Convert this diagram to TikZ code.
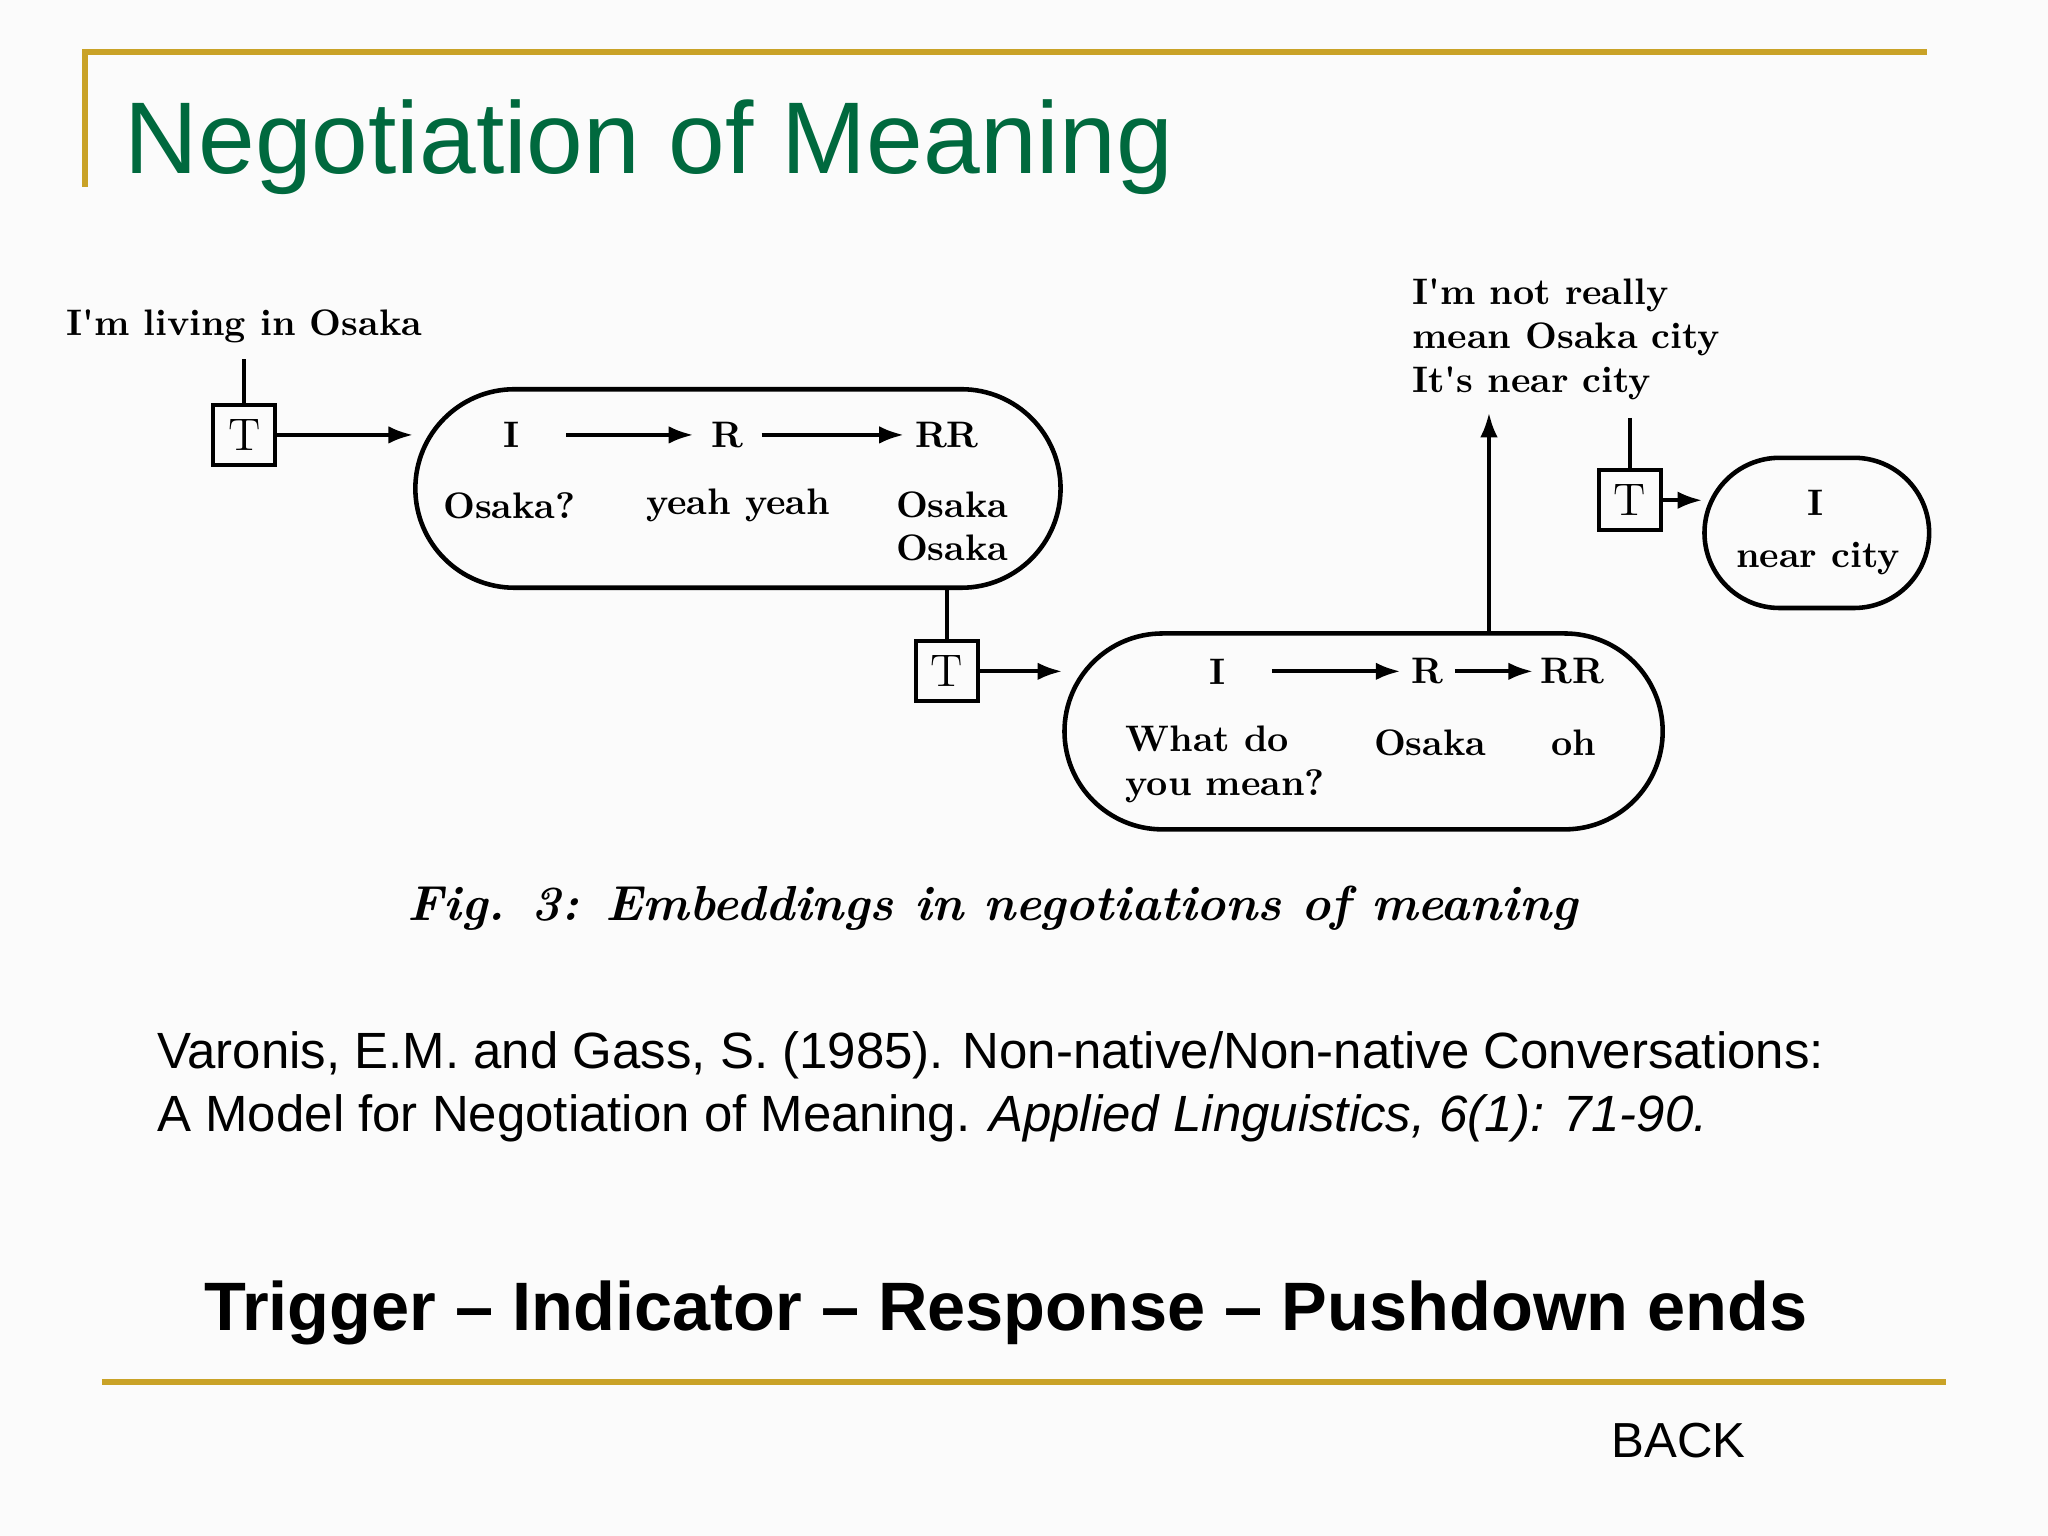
\documentclass[tikz,border=0pt]{standalone}
\usepackage{fontspec}
\setmainfont{Liberation Sans}
\newfontfamily\scanfont{Latin Modern Roman}
\usetikzlibrary{shapes.misc,arrows.meta}
\definecolor{gold}{RGB}{201,162,39}
\definecolor{titlegreen}{RGB}{0,105,62}
\begin{document}
\begin{tikzpicture}[x=0.01306cm,y=-0.01306cm,
  dtext/.style={font=\scanfont\fontsize{10.5}{12.5}\selectfont\bfseries, inner sep=1pt},
  tbox/.style={draw, line width=1.2pt, minimum width=0.62cm, minimum height=0.6cm, inner sep=0pt, font=\scanfont\fontsize{13}{14}\selectfont},
  caps/.style={draw, line width=1.3pt, rounded rectangle, inner sep=0pt},
  con/.style={line width=1.1pt},
  arr/.style={line width=1.1pt, -{Latex[length=7pt,width=5pt]}},
  goldline/.style={gold, line width=1.6pt}]
\useasboundingbox (0,0) rectangle (1568,1176);
\fill[white!97!gray] (0,0) rectangle (1568,1176);
% frame lines
\coordinate (g1) at (65,143); \coordinate (g2) at (65,40); \coordinate (g3) at (1475,40);
\draw[goldline] (g1) -- (g2) -- (g3);
\coordinate (g4) at (78,1058); \coordinate (g5) at (1490,1058);
\draw[goldline] (g4) -- (g5);
\node[anchor=base west, text=titlegreen, font=\fontsize{29}{32}\selectfont, inner sep=0pt] (title) at (95,133) {Negotiation of Meaning};
% capsule 1
\node[caps, minimum width=494*0.01306cm, minimum height=152*0.01306cm] (c1) at (565,374) {};
\node[dtext] (i1) at (392,333) {I};
\node[dtext] (r1) at (557,333) {R};
\node[dtext] (rr1) at (725,333) {RR};
\draw[arr] ([xshift=12pt]i1.east) -- ([xshift=-4pt]r1.west); \draw[arr] ([xshift=4pt]r1.east) -- ([xshift=-2pt]rr1.west);
\node[dtext] (o1) at (390,387) {Osaka?};
\node[dtext] (y1) at (565,387) {yeah yeah};
\node[dtext, align=center] (oo1) at (729,403) {Osaka\\Osaka};
% T1
\node[dtext, anchor=center] (t0) at (187,250) {I'm living in Osaka};
\node[tbox] (T1) at (187,333) {T};
\coordinate (t1top) at (187,275);
\draw[con] (t1top) -- (T1.north);
\draw[arr] (T1.east) -- (T1.east -| c1.west);
% T2
\node[tbox] (T2) at (725,514) {T};
\draw[con] (c1.south -| T2) -- (T2.north);
% capsule 2
\node[caps, minimum width=458*0.01306cm, minimum height=150*0.01306cm] (c2) at (1044,560) {};
\draw[arr] (T2.east) -- (T2.east -| c2.west);
\node[dtext] (i2) at (932,514) {I};
\node[dtext] (r2) at (1093,514) {R};
\node[dtext] (rr2) at (1204,514) {RR};
\draw[arr] ([xshift=12pt]i2.east) -- ([xshift=-2pt]r2.west); \draw[arr] ([xshift=2pt]r2.east) -- ([xshift=-1pt]rr2.west);
\node[dtext, align=left] (w2) at (938,585) {What do\\you mean?};
\node[dtext] (o2) at (1095,569) {Osaka};
\node[dtext] (oh2) at (1205,569) {oh};
\node[dtext, align=left, anchor=north west] (nr) at (1078,210) {I'm not really\\mean Osaka city\\It's near city};
\coordinate (uptop) at (1140,316);
\draw[arr] (c2.north -| uptop) -- (uptop);
% T3
\node[tbox] (T3) at (1248,383) {T};
\coordinate (t3top) at (1248,320);
\draw[con] (t3top) -- (T3.north);
\node[caps, minimum width=172*0.01306cm, minimum height=115*0.01306cm] (c3) at (1391,408) {};
\draw[arr] (T3.east) -- (T3.east -| c3.west);
\node[dtext] (i3) at (1390,385) {I};
\node[dtext] (n3) at (1392,428) {near city};
% caption
\node[font=\scanfont\fontsize{14}{16}\selectfont\bfseries\itshape] (cap) at (760,695) {Fig. 3: Embeddings in negotiations of meaning};
% reference
\node[anchor=base west, align=left, font=\fontsize{14.5}{17.8}\selectfont, inner sep=0pt] (ref) at (120,866) {Varonis, E.M. and Gass, S. (1985). Non-native/Non-native Conversations:\\A Model for Negotiation of Meaning. \textit{Applied Linguistics, 6(1): 71-90.}};
\node[font=\fontsize{19.5}{22}\selectfont\bfseries] (trig) at (770,1005) {Trigger -- Indicator -- Response -- Pushdown ends};
\node[font=\fontsize{14}{16}\selectfont] (back) at (1285,1103) {BACK};
\end{tikzpicture}
\end{document}
